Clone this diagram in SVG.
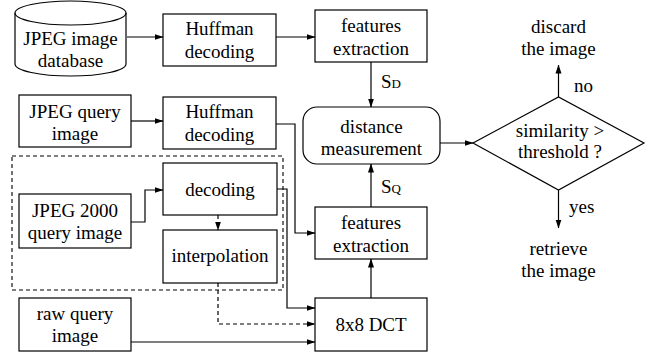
<svg xmlns="http://www.w3.org/2000/svg" width="662" height="358" viewBox="0 0 662 358">
<style>
.b{fill:#fff;stroke:#000;stroke-width:1.2}
.t{font-family:'Liberation Serif','Times New Roman',serif;font-size:19px;fill:#000;text-anchor:middle}
.c{fill:none;stroke:#000;stroke-width:1.2}
.d{stroke-dasharray:4,3}
</style>
<defs>
<marker id="a" markerWidth="9" markerHeight="7" refX="8.5" refY="3.5" orient="auto" markerUnits="userSpaceOnUse">
<path d="M0,0.5 L9,3.5 L0,6.5 Z" fill="#000"/>
</marker>
</defs>
<rect x="12" y="156" width="271" height="134" fill="none" stroke="#000" stroke-width="1.1" stroke-dasharray="4,3"/>
<g id="db">
<path class="b" d="M15,13 A55.5,12 0 0,1 126,13 L126,64 A55.5,12 0 0,1 15,64 Z"/>
<path class="c" d="M15,13 A55.5,12 0 0,0 126,13"/>
<text class="t" x="70.5" y="45">JPEG image</text>
<text class="t" x="70.5" y="67">database</text>
</g>
<g id="huff1"><rect class="b" x="163" y="14" width="113" height="52"/><text class="t" x="219.5" y="35">Huffman</text><text class="t" x="219.5" y="58">decoding</text></g>
<g id="feat1"><rect class="b" x="315" y="10" width="112" height="52"/><text class="t" x="371" y="32">features</text><text class="t" x="371" y="55">extraction</text></g>
<g id="query"><rect class="b" x="19" y="95" width="112" height="52"/><text class="t" x="75" y="118">JPEG query</text><text class="t" x="75" y="140">image</text></g>
<g id="huff2"><rect class="b" x="163" y="97" width="113" height="52"/><text class="t" x="219.5" y="118">Huffman</text><text class="t" x="219.5" y="141">decoding</text></g>
<g id="decoding"><rect class="b" x="163" y="163" width="114" height="52"/><text class="t" x="220" y="196">decoding</text></g>
<g id="jp2k"><rect class="b" x="19" y="194" width="112" height="54"/><text class="t" x="75" y="217">JPEG 2000</text><text class="t" x="75" y="239">query image</text></g>
<g id="interp"><rect class="b" x="163" y="230" width="114" height="53"/><text class="t" x="220" y="262">interpolation</text></g>
<g id="feat2"><rect class="b" x="315" y="207" width="112" height="52"/><text class="t" x="371" y="229">features</text><text class="t" x="371" y="252">extraction</text></g>
<g id="raw"><rect class="b" x="19" y="298" width="112" height="53"/><text class="t" x="75" y="320">raw query</text><text class="t" x="75" y="342">image</text></g>
<g id="dct"><rect class="b" x="315" y="298" width="112" height="53"/><text class="t" x="371" y="331">8x8 DCT</text></g>
<g id="dist"><rect class="b" x="303" y="107" width="137" height="57" rx="14" ry="14"/><text class="t" x="371.5" y="133">distance</text><text class="t" x="371.5" y="155">measurement</text></g>
<g id="decision"><polygon class="b" points="473,143 558.5,97 644,143 558.5,190"/><text class="t" x="560" y="137">similarity &gt;</text><text class="t" x="560" y="158">threshold ?</text></g>
<g id="discard"><text class="t" x="558.5" y="33">discard</text><text class="t" x="558.5" y="55">the image</text></g>
<g id="retrieve"><text class="t" x="558.5" y="255">retrieve</text><text class="t" x="558.5" y="277">the image</text></g>
<g id="connectors">
<path class="c" d="M127,37 H163" marker-end="url(#a)"/>
<path class="c" d="M276,37 H315" marker-end="url(#a)"/>
<path class="c" d="M371,62 V107" marker-end="url(#a)"/>
<path class="c" d="M131,121 H163" marker-end="url(#a)"/>
<path class="c" d="M276,124 H295 V233 H315" marker-end="url(#a)"/>
<path class="c" d="M131,222 H145 V190 H163" marker-end="url(#a)"/>
<path class="c d" d="M218,215 V230" marker-end="url(#a)"/>
<path class="c" d="M277,189 H287 V308 H315" marker-end="url(#a)"/>
<path class="c d" d="M218,283 V324 H315" marker-end="url(#a)"/>
<path class="c" d="M131,342 H315" marker-end="url(#a)"/>
<path class="c" d="M371,298 V259" marker-end="url(#a)"/>
<path class="c" d="M371,207 V164" marker-end="url(#a)"/>
<path class="c" d="M440,143 H473" marker-end="url(#a)"/>
<path class="c" d="M558.5,97 V65" marker-end="url(#a)"/>
<path class="c" d="M558.5,190 V228" marker-end="url(#a)"/>
<text class="t" x="381" y="88" style="text-anchor:start">S<tspan font-size="13">D</tspan></text>
<text class="t" x="381" y="193" style="text-anchor:start">S<tspan font-size="13">Q</tspan></text>
<text class="t" x="574" y="92" style="text-anchor:start">no</text>
<text class="t" x="569" y="213" style="text-anchor:start">yes</text>
</g>
</svg>
